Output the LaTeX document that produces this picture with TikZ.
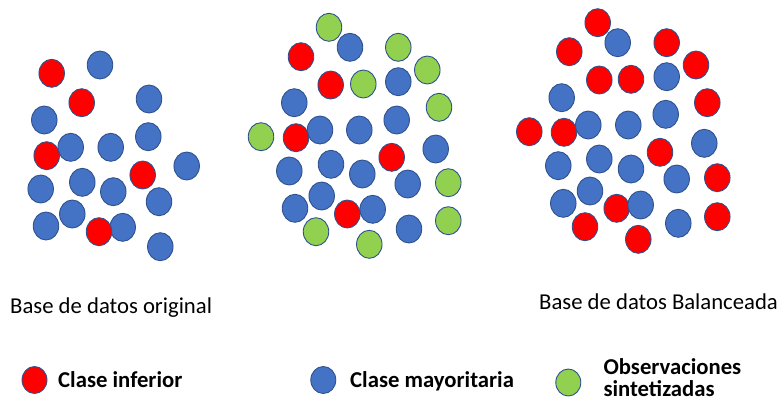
\documentclass[tikz,border=0pt]{standalone}
\usepackage{fontspec}
\setmainfont{Carlito}
\usetikzlibrary{shapes.geometric}
\definecolor{minred}{HTML}{FF0000}
\definecolor{majblue}{HTML}{4472C4}
\definecolor{synthgreen}{HTML}{92D050}
\definecolor{rim}{HTML}{2F528F}
\begin{document}
\begin{tikzpicture}[x=1pt,y=-1pt,
  dot/.style={ellipse, draw=rim, line width=0.9pt, minimum width=25.5pt,
              minimum height=28pt, inner sep=0pt},
  minority/.style={dot, fill=minred},
  majority/.style={dot, fill=majblue},
  synthetic/.style={dot, fill=synthgreen},
  keydot/.style={dot, minimum width=25pt, minimum height=27pt},
  caption/.style={anchor=base west, inner sep=0pt,
                  font=\fontsize{22.7}{27.5}\selectfont},
  keytext/.style={anchor=base west, inner sep=0pt,
                  font=\fontsize{22.7}{27.5}\selectfont\bfseries}]
\useasboundingbox (0,0) rectangle (780,400);
\clip (0,0) rectangle (780,400);

% ---- original data set ----
\foreach \px/\py [count=\i] in {100/65, 149/99, 44.3/120, 70.7/147.3,
    110.7/147.3, 148.3/136.7, 186.7/166, 40.7/189, 82.3/182.3, 113.3/191.7,
    159/201.7, 46/226, 72.3/214, 122.7/227.3, 160.3/246.7}
  \node[majority] (oa\i) at (\px,\py) {};
\foreach \px/\py [count=\i] in {51.7/73.3, 81.7/102.7, 46.7/155.7,
    142.7/175, 99/231.7}
  \node[minority] (ob\i) at (\px,\py) {};

% ---- oversampled data set with synthetic points ----
\foreach \px/\py [count=\i] in {329/27.3, 398.3/47.3, 427.3/70, 363.3/84,
    439/107.3, 261/136.7, 448.3/182.7, 316/231.7, 448.3/220.7, 369.3/244.3}
  \node[synthetic] (sc\i) at (\px,\py) {};
\foreach \px/\py [count=\i] in {350/47.3, 398.3/81.7, 294.3/102.7,
    396.7/120, 320/130, 359.3/130, 435.7/149, 289.3/171, 331/164.3,
    362.3/174, 407.7/184, 321.7/196, 295/208.3, 372.7/209.3, 409/229}
  \node[majority] (sa\i) at (\px,\py) {};
\foreach \px/\py [count=\i] in {301/56.7, 330.7/85, 296/137.7,
    391.7/157.3, 347.3/214}
  \node[minority] (sb\i) at (\px,\py) {};

% ---- balanced data set ----
\foreach \px/\py [count=\i] in {597.7/22.7, 569.3/51.7, 666.7/42.7,
    696/65, 599.3/80, 631/79.3, 707.3/102.7, 529.3/131.7, 564/132.3,
    660/152.3, 717.3/177.7, 616.7/208.3, 585/226.7, 717.3/216.7,
    638.3/239.3}
  \node[minority] (bb\i) at (\px,\py) {};
\foreach \px/\py [count=\i] in {617.7/42.7, 666.7/76.7, 561.7/97.7,
    665.7/114.3, 588.3/125, 628.3/125, 704.3/143.3, 558.3/165.7,
    599.3/159, 631/169, 676.7/179, 590/191, 563.3/203.3, 640.7/205,
    678.3/223.3}
  \node[majority] (ba\i) at (\px,\py) {};

% ---- captions ----
\node[caption] (capo) at (10,313) {Base de datos original};
\node[caption] (capb) at (539,309) {Base de datos Balanceada};

% ---- legend ----
\node[keydot, fill=minred] (kred) at (34.5,380) {};
\node[keytext] (tred) at (58,387) {Clase inferior};
\node[keydot, fill=majblue] (kblue) at (323.3,380) {};
\node[keytext] (tblue) at (350,387) {Clase mayoritaria};
\node[keydot, fill=synthgreen] (kgreen) at (568.3,382.5) {};
\node[keytext] (tgreen1) at (603.3,374) {Observaciones};
\node[keytext] (tgreen2) at (603.3,396.5) {sintetizadas};
\end{tikzpicture}
\end{document}
